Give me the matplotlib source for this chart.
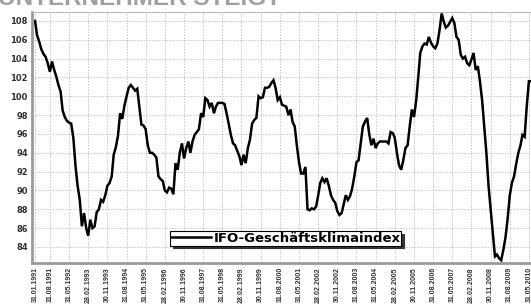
import numpy as np
import pandas as pd
import matplotlib
matplotlib.use("Agg")
import matplotlib.pyplot as plt

# ifo business climate, monthly values Jan 1991 .. Jun 2010
ifo_values = [
    108.0, 106.5, 105.8, 105.0, 104.5, 104.2, 103.5, 102.6, 103.7, 102.8,
    102.1, 101.2, 100.5, 98.5, 97.8, 97.4, 97.2, 97.1, 95.6, 92.6,
    90.5, 89.0, 86.2, 87.6, 86.0, 85.2, 86.9, 86.0, 86.2, 87.7,
    88.0, 89.0, 88.8, 89.5, 90.5, 90.8, 91.5, 93.8, 94.6, 95.8,
    98.2, 97.6, 99.0, 100.0, 100.9, 101.2, 100.9, 100.6, 100.8, 99.0,
    97.0, 96.9, 96.5, 94.8, 94.0, 94.0, 93.8, 93.5, 91.5, 91.2,
    91.0, 90.0, 89.8, 90.3, 90.2, 89.6, 92.9, 92.2, 94.0, 95.0,
    93.4, 94.5, 95.2, 94.0, 95.2, 95.9, 96.2, 96.5, 98.2, 97.8,
    99.8, 99.6, 98.9, 99.3, 98.2, 98.9, 99.3, 99.3, 99.3, 99.2,
    98.2, 97.0, 95.9, 95.0, 94.8, 94.2, 93.6, 92.7, 93.8, 92.9,
    94.5, 95.4, 97.1, 97.5, 97.7, 100.0, 99.8, 99.9, 100.9, 100.9,
    101.0, 101.4, 101.7, 100.9, 99.6, 99.9, 99.1, 99.0, 98.9, 98.0,
    98.6, 97.3, 96.8, 94.8, 93.0, 91.8, 91.8, 92.5, 88.0, 87.9,
    88.1, 88.0, 88.3, 89.4, 90.8, 91.3, 90.9, 91.3, 90.5, 89.5,
    89.0, 88.7, 87.8, 87.4, 87.6, 88.5, 89.5, 89.0, 89.4, 90.2,
    91.5, 93.0, 93.2, 95.0, 96.8, 97.3, 97.7, 96.0, 94.8, 95.5,
    94.5, 95.0, 95.2, 95.2, 95.2, 95.2, 95.0, 96.2, 96.1, 95.6,
    94.0, 92.7, 92.2, 93.2, 94.5, 94.8, 96.8, 98.6, 97.8, 99.5,
    102.1, 104.6, 105.3, 105.6, 105.5, 106.3, 105.7, 105.3, 105.1, 105.6,
    107.0, 108.8, 107.9, 107.3, 107.5, 107.9, 108.3, 107.8, 106.3, 106.0,
    104.4, 104.0, 104.2, 103.5, 103.3, 103.9, 104.6, 102.8, 103.2, 101.6,
    99.6, 96.8, 94.0, 90.5, 88.0, 85.5, 83.0, 83.2, 82.8, 82.6,
    83.7, 85.0, 87.0, 89.5, 90.8, 91.5, 92.8, 94.0, 94.8, 95.9,
    95.7, 98.9, 101.6, 101.6,
]
dates = pd.date_range("1991-01-31", periods=len(ifo_values), freq="ME")

tick_labels = [
    "31.01.1991", "31.08.1991", "31.05.1992", "28.02.1993", "30.11.1993",
    "31.08.1994", "31.05.1995", "28.02.1996", "30.11.1996", "31.08.1997",
    "31.05.1998", "28.02.1999", "30.11.1999", "31.08.2000", "31.05.2001",
    "28.02.2002", "30.11.2002", "31.08.2003", "31.05.2004", "28.02.2005",
    "30.11.2005", "31.08.2006", "31.05.2007", "28.02.2008", "30.11.2008",
    "31.08.2009", "31.05.2010",
]
tick_dates = pd.to_datetime(tick_labels, format="%d.%m.%Y")
y_ticks = list(range(84, 109, 2))

fig = plt.figure(figsize=(5.31, 3.05), dpi=100)
ax = fig.add_axes([32 / 531, 42 / 305, 502 / 531, 251 / 305])

ax.plot(dates, ifo_values, color="black", lw=1.8, label="IFO-Geschäftsklimaindex",
        solid_joinstyle="miter")

ax.set_xlim(pd.Timestamp("1990-12-18"), pd.Timestamp("2010-08-12"))
ax.set_ylim(82.3, 108.95)

ax.set_xticks(tick_dates)
ax.set_xticklabels(tick_labels, rotation=90, fontsize=5, fontweight="bold",
                   color="#333333", family="Liberation Sans")
ax.set_yticks(y_ticks)
ax.set_yticklabels([str(v) for v in y_ticks], fontsize=6, fontweight="bold",
                   color="#333333")
ax.tick_params(length=0, pad=3)

ax.grid(True, color="#c4c4c4", lw=0.6, ls=(0, (2, 1.5)))
ax.set_axisbelow(True)

for side in ["left", "bottom"]:
    ax.spines[side].set_color("#9a9a9a")
    ax.spines[side].set_linewidth(2)
ax.spines["top"].set_color("#bbbbbb")
ax.spines["top"].set_linewidth(0.8)
ax.spines["right"].set_visible(False)

leg = ax.legend(loc="center", bbox_to_anchor=(0.505, 0.098), frameon=True,
                fancybox=False, shadow={"color": "#333333", "alpha": 1},
                edgecolor="black", framealpha=1, handlelength=3.1,
                borderpad=0.05, handletextpad=0.15, borderaxespad=0,
                prop={"weight": "bold", "size": 9.5, "family": "DejaVu Sans"})
leg.get_frame().set_linewidth(0.8)

fig.text(-0.004, 1 - 5 / 305, "UNTERNEHMER STEIGT", fontsize=17.5, fontweight="bold",
         color="#a0a0a0", va="baseline", ha="left", family="Liberation Sans")

fig.savefig("out.png", dpi=100)
